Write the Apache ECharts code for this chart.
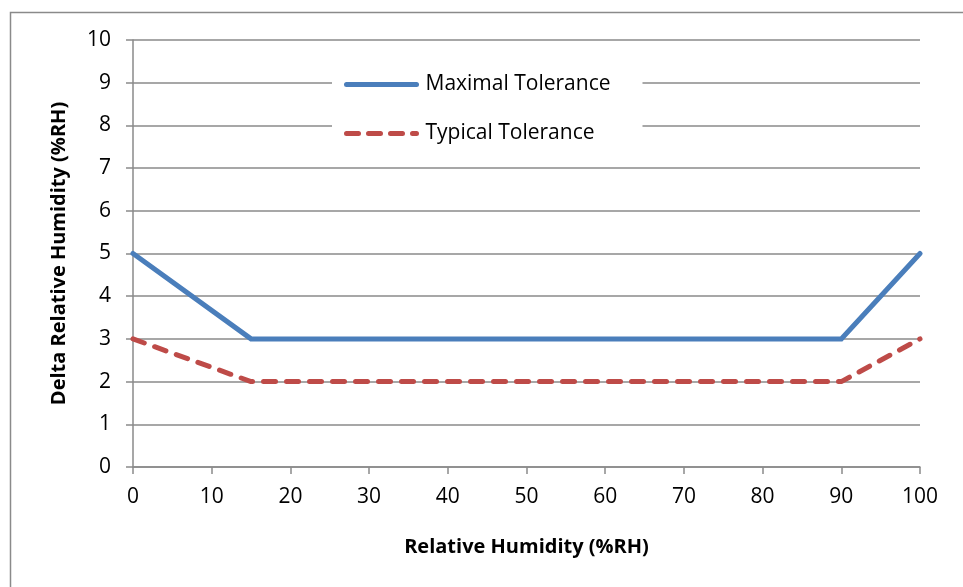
<!DOCTYPE html>
<html>
<head>
<meta charset="utf-8">
<script src="https://cdn.jsdelivr.net/npm/echarts@6/dist/echarts.min.js"></script>
<style>html,body{margin:0;padding:0;background:#fff;}#c{width:963px;height:587px;}</style>
</head>
<body>
<div id="c"></div>
<script>
var xValues = [0, 15, 90, 100];
var maximalTolerance = [5, 3, 3, 5];
var typicalTolerance = [3, 2, 2, 3];
var seriesNames = ['Maximal Tolerance', 'Typical Tolerance'];
var xAxisTitle = 'Relative Humidity (%RH)';
var yAxisTitle = 'Delta Relative Humidity (%RH)';

function pairs(xs, ys) { return xs.map(function (x, i) { return [x, ys[i]]; }); }

var font = 'Open Sans';
var chart = echarts.init(document.getElementById('c'));
var gray = '#8a8a8a';
chart.setOption({
  animation: false,
  backgroundColor: '#fff',
  graphic: [{
    type: 'rect', left: 8, top: 10, z: -1,
    shape: { width: 1000, height: 600 },
    style: { fill: 'none', stroke: '#8a8a8a', lineWidth: 1.5 }
  }],
  grid: { left: 133, right: 43, top: 40, bottom: 120 },
  legend: {
    orient: 'vertical',
    left: 332, top: 70,
    backgroundColor: '#fff',
    padding: [4, 32, 4, 12],
    itemWidth: 70, itemHeight: 20, itemGap: 28,
    itemStyle: { opacity: 0 },
    lineStyle: { width: 5, cap: 'round' },
    textStyle: { fontFamily: font, fontSize: 21, color: '#000', padding: [0, 0, 0, 4] },
    data: [
      { name: seriesNames[0] },
      { name: seriesNames[1], lineStyle: { type: [12, 10], width: 5, cap: 'round' } }
    ]
  },
  xAxis: {
    type: 'value', min: 0, max: 100, interval: 10,
    name: xAxisTitle, nameLocation: 'middle', nameGap: 70,
    nameTextStyle: { fontFamily: font, fontSize: 20, fontWeight: 'bold', color: '#000' },
    axisLine: { show: true, lineStyle: { color: gray, width: 1.5 } },
    axisTick: { show: true, length: 7, lineStyle: { color: gray, width: 1.5 } },
    axisLabel: { fontFamily: font, fontSize: 21, color: '#000', margin: 20 },
    splitLine: { show: false }
  },
  yAxis: {
    type: 'value', min: 0, max: 10, interval: 1,
    name: yAxisTitle, nameLocation: 'middle', nameGap: 64,
    nameTextStyle: { fontFamily: font, fontSize: 20, fontWeight: 'bold', color: '#000' },
    axisLine: { show: true, lineStyle: { color: gray, width: 1.5 } },
    axisTick: { show: true, length: 7, lineStyle: { color: gray, width: 1.5 } },
    axisLabel: { fontFamily: font, fontSize: 21, color: '#000', margin: 22 },
    splitLine: { show: true, lineStyle: { color: gray, width: 1.5 } }
  },
  series: [{
    name: seriesNames[0], type: 'line', symbol: 'none',
    data: pairs(xValues, maximalTolerance),
    lineStyle: { color: '#4a7ebb', width: 5, cap: 'round', join: 'miter' },
    itemStyle: { color: '#4a7ebb' }
  }, {
    name: seriesNames[1], type: 'line', symbol: 'none',
    data: pairs(xValues, typicalTolerance),
    lineStyle: { color: '#be4b48', width: 5, type: [12, 11], cap: 'round', join: 'round' },
    itemStyle: { color: '#be4b48' }
  }]
});
</script>
</body>
</html>
